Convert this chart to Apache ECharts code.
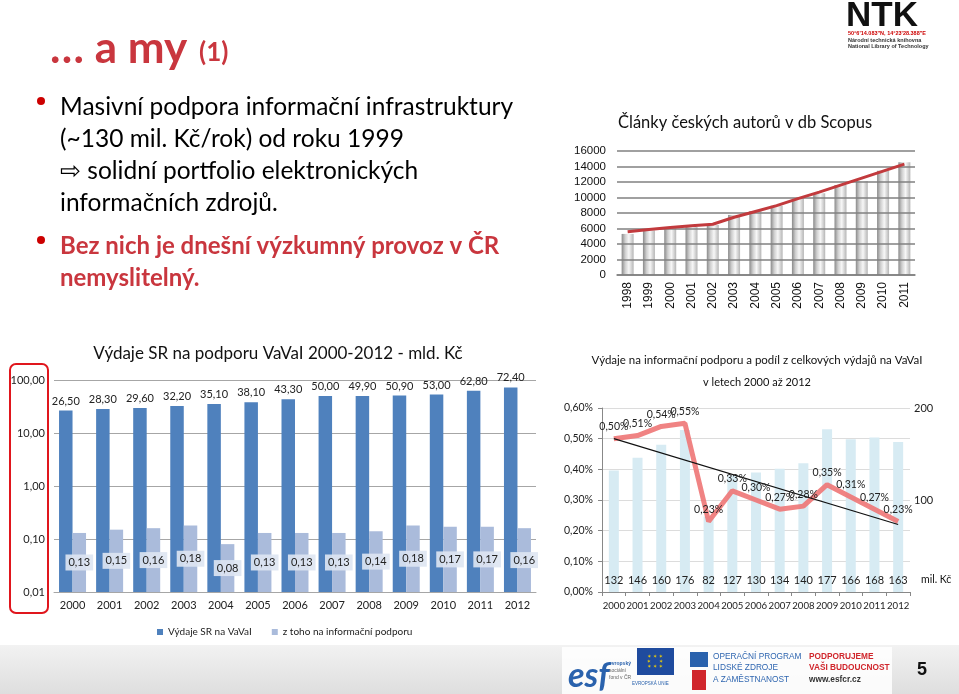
<!DOCTYPE html>
<html lang="cs">
<head>
<meta charset="UTF-8">
<title>a my (1)</title>
<script src="https://cdn.jsdelivr.net/npm/echarts@6/dist/echarts.min.js"></script>
<style>
  html, body { margin: 0; padding: 0; background: #fff; }
  #main { width: 959px; height: 694px; }
</style>
</head>
<body>
<div id="main"></div>
<script>
// --- data ---
const scopusYears = ['1998', '1999', '2000', '2001', '2002', '2003', '2004', '2005', '2006', '2007', '2008', '2009', '2010', '2011'];
const scopusArticles = [5300, 5750, 6000, 6200, 6450, 7750, 8250, 8950, 9830, 10550, 11600, 12130, 13450, 14550];
const scopusTrend = [5570, 5870, 6130, 6350, 6550, 7450, 8200, 8950, 9850, 10700, 11600, 12500, 13400, 14300];

const years = ['2000', '2001', '2002', '2003', '2004', '2005', '2006', '2007', '2008', '2009', '2010', '2011', '2012'];
const vavaiTotal = [26.5, 28.3, 29.6, 32.2, 35.1, 38.1, 43.3, 50.0, 49.9, 50.9, 53.0, 62.8, 72.4];
const vavaiInfo = [0.13, 0.15, 0.16, 0.18, 0.08, 0.13, 0.13, 0.13, 0.14, 0.18, 0.17, 0.17, 0.16];

const infoMilKc = [132, 146, 160, 176, 82, 127, 130, 134, 140, 177, 166, 168, 163];
const infoSharePct = [0.50, 0.51, 0.54, 0.55, 0.23, 0.33, 0.30, 0.27, 0.28, 0.35, 0.31, 0.27, 0.23];
const shareTrendEnds = [0.50, 0.22];   // linear trend, first and last year

const red = '#c9363e';
const comma = (v, d) => v.toFixed(d).replace('.', ',');

let chart = echarts.init(document.getElementById('main'));

// trend line only has both ends, the rest is connected
const shareTrend = years.map((y, i) => i === 0 ? shareTrendEnds[0] : (i === years.length - 1 ? shareTrendEnds[1] : null));

const txt = (x, y, text, font, fill, align) => ({
  type: 'text', x: x, y: y, silent: true,
  style: { text: text, font: font, fill: fill || '#111', textAlign: align || 'left', textVerticalAlign: 'middle' }
});

const slideText = [
  txt(50, 49, '\u2026 a my', 'bold 44px Lato', red),
  txt(199, 53, '(1)', 'bold 26px Lato', red),
  { type: 'circle', shape: { cx: 41, cy: 101, r: 4 }, style: { fill: '#c00' } },
  txt(60, 107, 'Masivní podpora informační infrastruktury', '24.5px Lato', '#000'),
  txt(60, 139, '(~130 mil. Kč/rok) od roku 1999', '24.5px Lato', '#000'),
  txt(60, 171, '\u21e8 solidní portfolio elektronických', '24.5px Lato', '#000'),
  txt(60, 203, 'informačních zdrojů.', '24.5px Lato', '#000'),
  { type: 'circle', shape: { cx: 41, cy: 240, r: 4 }, style: { fill: '#c00' } },
  txt(60, 246, 'Bez nich je dnešní výzkumný provoz v ČR', 'bold 24px Lato', red),
  txt(60, 278, 'nemyslitelný.', 'bold 24px Lato', red),

  // NTK logo
  txt(846, 16, 'NTK', 'bold 35px "Liberation Sans"', '#111'),
  txt(848, 33, '50°6\'14.083"N, 14°23\'28.388"E', 'bold 5.5px "Liberation Sans"', '#c00'),
  txt(848, 40, 'Národní technická knihovna', 'bold 5.5px "Liberation Sans"', '#333'),
  txt(848, 46, 'National Library of Technology', 'bold 5.5px "Liberation Sans"', '#333'),

  // chart titles
  txt(745, 123, 'Články českých autorů v db Scopus', '16.5px Lato', '#111', 'center'),
  txt(278, 354, 'Výdaje SR na podporu VaVaI 2000-2012 - mld. Kč', '17px Lato', '#111', 'center'),
  txt(757, 360, 'Výdaje na informační podporu a podíl z celkových výdajů na VaVaI', '11.5px Lato', '#111', 'center'),
  txt(757, 382, 'v letech 2000 až 2012', '11px Lato', '#111', 'center'),
  txt(921, 580, 'mil. Kč', '10.5px Lato', '#111'),

  // red frame round the log axis labels
  { type: 'rect', shape: { x: 10, y: 364, width: 38, height: 249, r: 6 }, style: { fill: 'none', stroke: '#e0161d', lineWidth: 2 } },

  // bottom strip
  { type: 'rect', shape: { x: 0, y: 645, width: 959, height: 49 }, z: -10,
    style: { fill: new echarts.graphic.LinearGradient(0, 0, 0, 1, [{ offset: 0, color: '#f2f2f2' }, { offset: 1, color: '#dedede' }]) } },
  { type: 'rect', shape: { x: 562, y: 647, width: 330, height: 47 }, style: { fill: 'rgba(255,255,255,0.85)' } },
  txt(568, 676, 'esf', 'bold italic 34px Lato', '#2a62ad'),
  txt(609, 664, 'evropský', 'bold 5px "Liberation Sans"', '#2a62ad'),
  txt(609, 671, 'sociální', '5px "Liberation Sans"', '#666'),
  txt(609, 678, 'fond v ČR', '5px "Liberation Sans"', '#666'),
  { type: 'rect', shape: { x: 637, y: 648, width: 37, height: 27 }, style: { fill: '#1f4b9e' } },
  txt(655, 662, '✶ ✶ ✶\n✶     ✶\n✶ ✶ ✶', '5px "DejaVu Sans"', '#f5d200', 'center'),
  txt(632, 684, 'EVROPSKÁ UNIE', '4.5px "Liberation Sans"', '#2a62ad'),
  { type: 'rect', shape: { x: 690, y: 652, width: 18, height: 15 }, style: { fill: '#2a62ad' } },
  { type: 'rect', shape: { x: 692, y: 670, width: 14, height: 20 }, style: { fill: '#d0262c' } },
  txt(713, 657, 'OPERAČNÍ PROGRAM', '8.3px "Liberation Sans"', '#2f66b0'),
  txt(713, 668, 'LIDSKÉ ZDROJE', '8.3px "Liberation Sans"', '#2f66b0'),
  txt(713, 680, 'A ZAMĚSTNANOST', '8.3px "Liberation Sans"', '#2f66b0'),
  txt(809, 657, 'PODPORUJEME', 'bold 8.3px "Liberation Sans"', '#d0262c'),
  txt(809, 668, 'VAŠI BUDOUCNOST', 'bold 8.3px "Liberation Sans"', '#d0262c'),
  txt(809, 680, 'www.esfcr.cz', 'bold 8.3px "Liberation Sans"', '#333'),
  txt(922, 670, '5', 'bold 18px "Liberation Sans"', '#111', 'center')
];

let option = {
  animation: false,
  textStyle: { fontFamily: 'Lato' },
  graphic: slideText,
  legend: {
    left: 152, top: 622, itemWidth: 6, itemHeight: 6, itemGap: 20,
    icon: 'rect',
    textStyle: { fontSize: 10, color: '#222', fontFamily: 'Lato' },
    data: ['Výdaje SR na VaVaI', 'z toho na informační podporu']
  },
  grid: [
    { left: 617, right: 44, top: 151, bottom: 419 },
    { left: 54, right: 423, top: 380, bottom: 102 },
    { left: 602, right: 49, top: 408, bottom: 102 }
  ],
  xAxis: [
    {
      gridIndex: 0, type: 'category', data: scopusYears,
      axisLine: { lineStyle: { color: '#808080', width: 1.5 } }, axisTick: { show: false },
      axisLabel: { rotate: 90, fontSize: 12, color: '#111', fontFamily: 'Liberation Sans', margin: 7 }
    },
    {
      gridIndex: 1, type: 'category', data: years,
      axisLine: { lineStyle: { color: '#a6a6a6' } }, axisTick: { show: false },
      axisLabel: { fontSize: 11, color: '#222', margin: 8 }
    },
    {
      gridIndex: 2, type: 'category', data: years,
      axisLine: { lineStyle: { color: '#888' } }, axisTick: { show: true, length: 4, lineStyle: { color: '#888' } },
      axisLabel: { fontSize: 9.6, color: '#222', margin: 9, interval: 0 }
    }
  ],
  yAxis: [
    {
      gridIndex: 0, type: 'value', min: 0, max: 16000, interval: 2000,
      axisLine: { show: false }, axisTick: { show: false },
      splitLine: { lineStyle: { color: '#808080', width: 1.5 } },
      axisLabel: { fontSize: 11.5, color: '#111', fontFamily: 'Liberation Sans', margin: 11, formatter: v => String(v) }
    },
    {
      gridIndex: 1, type: 'log', logBase: 10, min: 0.01, max: 100, startValue: 0.01,
      axisLine: { show: false }, axisTick: { show: false },
      splitLine: { lineStyle: { color: '#a6a6a6' } },
      axisLabel: { fontSize: 11, color: '#222', margin: 9, formatter: v => comma(v, 2) }
    },
    {
      gridIndex: 2, type: 'value', min: 0, max: 0.6, interval: 0.1,
      axisLine: { show: true, lineStyle: { color: '#888' } },
      axisTick: { show: true, length: 4, lineStyle: { color: '#888' } },
      splitLine: { lineStyle: { color: '#dcdcdc' } },
      axisLabel: { fontSize: 10.5, color: '#222', margin: 9, formatter: v => comma(v, 2) + '%' }
    },
    {
      gridIndex: 2, type: 'value', position: 'right', min: 0, max: 200, interval: 100,
      axisLine: { show: false }, axisTick: { show: false }, splitLine: { show: false },
      axisLabel: { fontSize: 11, color: '#222', margin: 4, formatter: v => v === 0 ? '' : String(v) }
    }
  ],
  series: [
    {
      type: 'bar', xAxisIndex: 0, yAxisIndex: 0, data: scopusArticles, barWidth: 12, z: -1,
      itemStyle: {
        color: new echarts.graphic.LinearGradient(0, 0, 1, 0, [
          { offset: 0, color: '#8a8a8a' }, { offset: 0.3, color: '#cfcfcf' },
          { offset: 0.6, color: '#f7f7f7' }, { offset: 1, color: '#b5b5b5' }
        ])
      }
    },
    {
      type: 'line', xAxisIndex: 0, yAxisIndex: 0, data: scopusTrend, symbol: 'none',
      lineStyle: { color: '#c23a3d', width: 3 }
    },
    {
      name: 'Výdaje SR na VaVaI', type: 'bar', xAxisIndex: 1, yAxisIndex: 1, data: vavaiTotal,
      barWidth: 13.5, barGap: '0%', itemStyle: { color: '#4f81bd' },
      label: { show: true, position: 'top', distance: 4, fontSize: 11, color: '#222', formatter: p => comma(p.value, 2) }
    },
    {
      name: 'z toho na informační podporu', type: 'bar', xAxisIndex: 1, yAxisIndex: 1, data: vavaiInfo,
      barWidth: 13.5, barGap: '0%', itemStyle: { color: '#aabbdb' },
      label: {
        show: true, position: 'inside', fontSize: 11, color: '#222',
        backgroundColor: 'rgba(222,229,242,0.9)', padding: [3, 3, 2, 3],
        formatter: p => comma(p.value, 2)
      }
    },
    {
      type: 'bar', xAxisIndex: 2, yAxisIndex: 3, data: infoMilKc, barWidth: 10,
      itemStyle: { color: '#d7ebf3' },
      label: { show: true, position: 'insideBottom', distance: 6, fontSize: 11, color: '#222' }
    },
    {
      type: 'line', xAxisIndex: 2, yAxisIndex: 2, data: infoSharePct,
      symbol: 'circle', symbolSize: 1, itemStyle: { color: 'rgba(238,118,118,0)' },
      lineStyle: { color: 'rgba(238,118,118,0.9)', width: 5 },
      label: { show: true, position: 'top', distance: 6, fontSize: 10.5, color: '#222', formatter: p => comma(p.value, 2) + '%' }
    },
    {
      type: 'line', xAxisIndex: 2, yAxisIndex: 2, data: shareTrend, connectNulls: true, symbol: 'none',
      lineStyle: { color: '#111', width: 1.2 }, z: 3
    }
  ]
};

chart.setOption(option);
</script>
</body>
</html>
